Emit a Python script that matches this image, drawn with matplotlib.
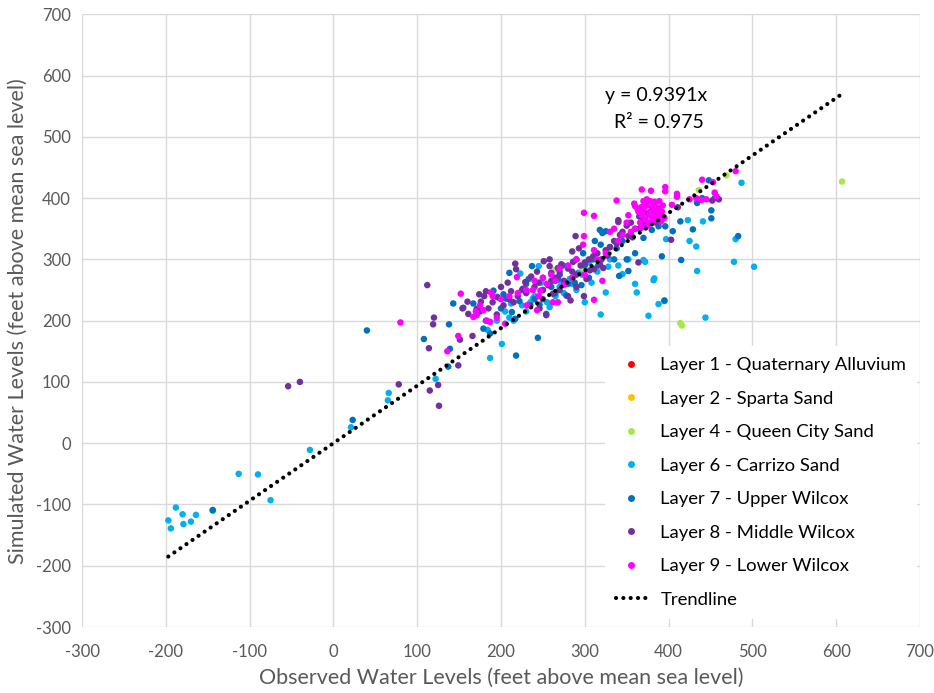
import matplotlib
matplotlib.use("Agg")
import matplotlib.pyplot as plt
from matplotlib.lines import Line2D
import numpy as np

plt.rcParams['font.family'] = ['Lato', 'DejaVu Sans']
plt.rcParams['axes.unicode_minus'] = False

# Observed / simulated water levels (ft above MSL) for each model layer
layer_names = [
    "Layer 1 - Quaternary Alluvium",
    "Layer 2 - Sparta Sand",
    "Layer 4 - Queen City Sand",
    "Layer 6 - Carrizo Sand",
    "Layer 7 - Upper Wilcox",
    "Layer 8 - Middle Wilcox",
    "Layer 9 - Lower Wilcox",
]
layer_colors = ["#FF0000", "#FFC000", "#A4E84C", "#00B0F0", "#0070C0", "#7030A0", "#FF00FF"]

layer1_obs, layer1_sim = [], []
layer2_obs, layer2_sim = [], []

layer4_obs = [607, 469, 436, 414, 416, 263, 297]
layer4_sim = [427, 437, 413, 196, 192, 283, 283]

layer6_obs = [-197, -194, -188, -180, -179, -170, -164, -144, -113, -90, -75, -28, 21, 65, 66, 122,
              184, 201, 187, 195, 231, 223, 245, 215, 225, 205, 240, 250, 262, 270, 230, 210, 255,
              275, 285, 297, 305, 310, 319, 325, 345, 360, 362, 370, 372, 376, 382, 388, 397, 423,
              425, 433, 434, 441, 444, 478, 480, 487, 502, 383, 395, 330, 340, 300, 290, 265, 235,
              195, 258, 282, 315, 212, 238, 248, 272, 292, 308, 328, 352]
layer6_sim = [-126, -139, -105, -116, -132, -128, -117, -110, -50, -51, -93, -11, 26, 70, 82, 105,
              185, 162, 139, 239, 248, 277, 289, 200, 225, 215, 240, 250, 265, 255, 215, 205, 230,
              245, 260, 275, 295, 285, 210, 246, 276, 260, 246, 299, 296, 208, 266, 227, 333, 364,
              330, 321, 281, 362, 205, 296, 333, 425, 288, 269, 232, 300, 290, 230, 250, 240, 230,
              200, 222, 268, 280, 228, 236, 262, 262, 278, 262, 288, 300]

layer7_obs = [-144, 23, 40, 108, 137, 139, 143, 138, 155, 167, 179, 187, 191, 203, 210, 213, 217,
              218, 237, 244, 254, 278, 318, 319, 321, 325, 341, 352, 380, 388, 392, 395, 396, 414,
              415, 429, 434, 448, 451, 451, 483, 270, 290, 300, 305, 310, 280, 260, 230, 225, 200,
              240, 250, 265, 330, 345, 355, 360, 365, 335, 440, 455, 378, 268, 288, 246, 312, 206,
              182, 296, 350, 405, 222, 233, 274, 298, 316, 338, 370]
layer7_sim = [-109, 38, 184, 170, 125, 154, 228, 194, 221, 228, 187, 179, 249, 243, 278, 214, 203,
              143, 289, 172, 211, 241, 348, 324, 343, 346, 273, 281, 348, 354, 305, 233, 354, 362,
              299, 349, 392, 429, 380, 367, 338, 280, 300, 290, 270, 300, 260, 255, 260, 250, 220,
              235, 270, 245, 320, 330, 340, 310, 350, 300, 400, 400, 360, 268, 262, 226, 330, 236,
              200, 258, 300, 346, 232, 268, 290, 310, 290, 318, 335]

layer8_obs = [-54, -40, 78, 115, 125, 126, 114, 119, 120, 112, 149, 151, 154, 160, 161, 166, 171,
              174, 176, 175, 200, 203, 210, 217, 218, 229, 251, 254, 258, 260, 283, 285, 289, 299,
              311, 340, 340, 364, 403, 411, 452, 460, 215, 220, 230, 240, 245, 250, 260, 265, 270,
              275, 280, 285, 290, 295, 300, 305, 310, 315, 320, 325, 330, 335, 345, 350, 355, 360,
              365, 370, 375, 380, 385, 250, 235, 190, 185, 195, 270, 280, 290, 208, 226, 243, 262,
              272, 302, 318, 338, 352, 367, 182, 196, 246, 258, 277, 293, 327, 212, 236, 256, 268,
              286, 306, 322, 342, 357, 372, 388, 180]
layer8_sim = [93, 100, 96, 86, 95, 61, 155, 194, 205, 258, 127, 169, 220, 231, 211, 175, 219,
              243, 231, 215, 255, 225, 235, 293, 284, 263, 297, 209, 289, 278, 233, 313, 338, 240,
              284, 364, 361, 295, 332, 385, 396, 398, 230, 240, 245, 255, 262, 250, 265, 270, 275,
              265, 285, 280, 275, 290, 295, 300, 305, 310, 300, 315, 320, 330, 345, 355, 360, 350,
              370, 365, 375, 380, 360, 235, 225, 230, 220, 210, 250, 240, 255, 262, 252, 280, 244,
              292, 268, 292, 326, 338, 352, 248, 238, 220, 300, 262, 318, 306, 248, 272, 258, 286,
              296, 282, 286, 340, 336, 358, 372, 240]

layer9_obs = [80, 136, 149, 152, 167, 171, 179, 183, 187, 188, 219, 231, 238, 243, 247, 262, 268,
              298, 299, 299, 311, 311, 311, 321, 338, 359, 360, 367, 368, 379, 396, 396, 404, 410,
              410, 425, 433, 439, 440, 445, 453, 455, 457, 480, 366, 368, 370, 372, 374, 375, 376,
              378, 380, 381, 382, 384, 385, 386, 387, 388, 390, 392, 393, 395, 360, 355, 350, 345,
              370, 378, 340, 170, 175, 190, 200, 210, 220, 230, 240, 250, 260, 270, 280, 290, 255,
              265, 275, 205, 195, 245, 285, 300, 315, 325, 330, 335, 352, 363, 372, 389, 364, 371,
              377, 383, 391, 368, 374, 380]
layer9_sim = [197, 150, 175, 244, 206, 209, 217, 200, 198, 246, 271, 225, 250, 217, 249, 230, 230,
              324, 338, 376, 371, 315, 234, 265, 396, 391, 387, 385, 414, 412, 418, 411, 389, 407,
              402, 398, 400, 397, 430, 398, 426, 409, 403, 444, 360, 372, 380, 365, 388, 355, 372,
              378, 385, 362, 370, 392, 375, 380, 366, 384, 372, 378, 388, 368, 350, 345, 360, 340,
              395, 395, 330, 215, 225, 240, 235, 240, 245, 250, 265, 270, 275, 285, 290, 300, 260,
              265, 258, 195, 205, 240, 270, 275, 300, 310, 345, 350, 372, 382, 392, 395, 378, 386,
              360, 394, 362, 352, 398, 370]

trend_slope = 0.9391
trend_r2 = 0.975

layers = [
    (layer1_obs, layer1_sim),
    (layer2_obs, layer2_sim),
    (layer4_obs, layer4_sim),
    (layer6_obs, layer6_sim),
    (layer7_obs, layer7_sim),
    (layer8_obs, layer8_sim),
    (layer9_obs, layer9_sim),
]

fig = plt.figure(figsize=(9.34, 6.93), dpi=100)
ax = fig.add_axes([0.0878, 0.0952, 0.8972, 0.8842])

grid_color = "#D9D9D9"
text_gray = "#595959"
trend_style = (0, (0.01, 1.75))

for (obs, sim), color in zip(layers, layer_colors):
    ax.scatter(obs, sim, s=22, color=color, edgecolors="none", zorder=3)

all_obs = np.concatenate([np.asarray(o, dtype=float) for o, _ in layers if len(o)])
x_line = np.array([all_obs.min(), all_obs.max()])
ax.plot(x_line, trend_slope * x_line, color="black", linewidth=3.0,
        linestyle=trend_style, dash_capstyle="round", zorder=4)

ax.annotate(f"y = {trend_slope:.4f}x", xy=(0.703, 0.862), xycoords="figure fraction",
            ha="center", va="center", fontsize=14, color="black")
ax.annotate(f"R\u00b2 = {trend_r2:.3f}", xy=(0.705, 0.823), xycoords="figure fraction",
            ha="center", va="center", fontsize=14, color="black")

ax.set_xlim(-300, 700)
ax.set_ylim(-300, 700)
ax.set_xticks(np.arange(-300, 701, 100))
ax.set_yticks(np.arange(-300, 701, 100))
ax.grid(True, color=grid_color, linewidth=1.0, zorder=0)
ax.set_axisbelow(True)
for sp in ax.spines.values():
    sp.set_visible(False)
ax.tick_params(axis="both", length=0, labelsize=12, labelcolor=text_gray)
ax.tick_params(axis="x", pad=12)
ax.tick_params(axis="y", pad=8)

ax.set_xlabel("Observed Water Levels (feet above mean sea level)", fontsize=15.5,
              color=text_gray, labelpad=6)
ax.set_ylabel("Simulated Water Levels (feet above mean sea level)", fontsize=15.5,
              color=text_gray, labelpad=6)

handles = [Line2D([], [], linestyle="none", marker="o", markersize=5,
                  markerfacecolor=c, markeredgecolor="none") for c in layer_colors]
handles.append(Line2D([], [], color="black", linewidth=3.0, linestyle=trend_style,
                      dash_capstyle="round"))
labels = layer_names + ["Trendline"]
leg = ax.legend(handles, labels, loc="lower right", bbox_to_anchor=(1.008, -0.002),
                frameon=True, fontsize=13.3, handlelength=1.6, handletextpad=0.8,
                labelspacing=0.95, borderpad=0.6, fancybox=False)
leg.get_frame().set_facecolor("white")
leg.get_frame().set_edgecolor("none")
leg.get_frame().set_alpha(1.0)
leg.set_zorder(5)

fig.savefig("out.png", dpi=100, facecolor="white")
